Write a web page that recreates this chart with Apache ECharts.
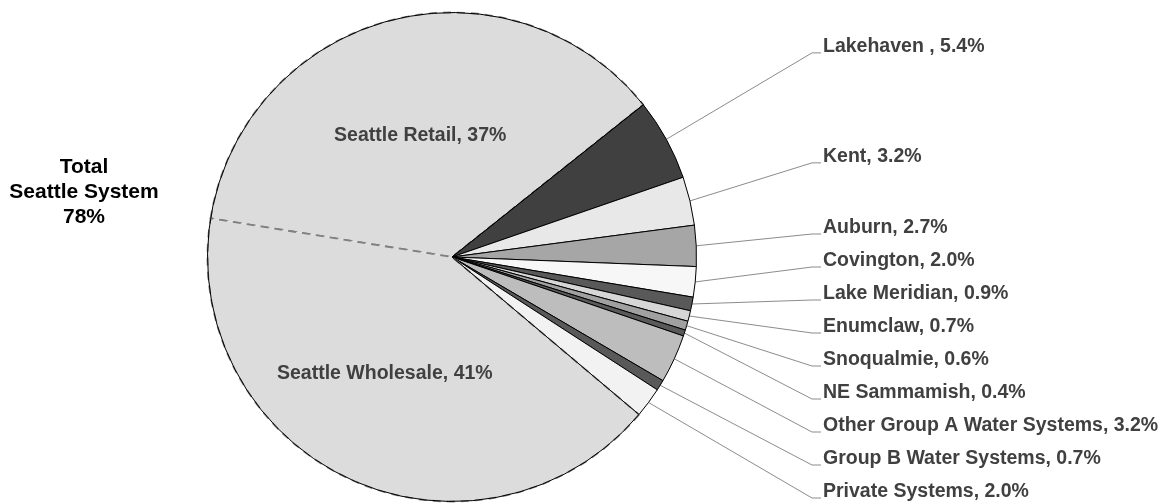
<!DOCTYPE html>
<html><head><meta charset="utf-8">
<script src="https://cdn.jsdelivr.net/npm/echarts@6/dist/echarts.min.js"></script>
<style>
html,body{margin:0;padding:0;background:#fff}
#c{width:1168px;height:504px}
</style></head><body><div id="c"></div>
<script>
// ---- data ----
const categories = ['Seattle Retail','Lakehaven ','Kent','Auburn','Covington','Lake Meridian','Enumclaw','Snoqualmie','NE Sammamish','Other Group A Water Systems','Group B Water Systems','Private Systems','Seattle Wholesale'];
const shares = [36.7,5.4,3.2,2.7,2.0,0.9,0.7,0.6,0.4,3.2,0.7,2.0,41.3];
const seattleGroup = ['Seattle Retail','Seattle Wholesale'];
const totalName = ['Total','Seattle System'];

// ---- styles / layout ----
const sliceColors = ['#dcdcdc','#404040','#e8e8e8','#a6a6a6','#f7f7f7','#595959','#d6d6d6','#a0a0a0','#5a5a5a','#bdbdbd','#595959','#f2f2f2','#dcdcdc'];
const FONT = '"Liberation Sans", Arial, sans-serif';
const CENTER = [452, 257];
const RADIUS = 244.5;
const START = 170.9;
const TEXT_X = 823;
const LABEL_RADIUS = RADIUS + 192;
const LABEL_GAP = 33;
const LABEL_BOTTOM = 492;
const INNER_NUDGE = {'Seattle Retail':[0,0], 'Seattle Wholesale':[-15,3]};

const total = shares.reduce((a,b)=>a+b,0);
const seattleSum = shares.filter((v,i)=>seattleGroup.includes(categories[i])).reduce((a,b)=>a+b,0);
const wholesale = shares[categories.indexOf('Seattle Wholesale')];
const fmt = v => v >= 10 ? String(Math.round(v)) : v.toFixed(1);
const rad = d => d*Math.PI/180;

// mid angles of slices (ECharts: start angle, clockwise)
let cum = 0;
const mids = shares.map(v => { const m = START - (cum + v/2)/total*360; cum += v; return m; });
// outside label vertical layout: natural position, then push apart, bounded at bottom
const outsideIdx = categories.map((n,i)=>i).filter(i=>!seattleGroup.includes(categories[i]));
const labelY = {};
outsideIdx.forEach(i => { labelY[i] = CENTER[1] - LABEL_RADIUS*Math.sin(rad(mids[i])); });
const order = outsideIdx.slice().sort((a,b)=>labelY[a]-labelY[b]);
for (let k=1;k<order.length;k++) labelY[order[k]] = Math.max(labelY[order[k]], labelY[order[k-1]] + LABEL_GAP);
labelY[order[order.length-1]] = Math.min(labelY[order[order.length-1]], LABEL_BOTTOM);
for (let k=order.length-2;k>=0;k--) labelY[order[k]] = Math.min(labelY[order[k]], labelY[order[k+1]] - LABEL_GAP);

const mainData = categories.map((n,i)=>{
  const sea = seattleGroup.includes(n);
  const d = {name:n, value:shares[i], itemStyle:{color:sliceColors[i]}};
  if (sea) {
    d.itemStyle.borderColor = '#808080';
    d.itemStyle.borderWidth = 1.8;
    d.itemStyle.borderType = [8,6];
    d.label = {position:'inner'};
    d.labelLine = {show:false};
  }
  return d;
});

const chart = echarts.init(document.getElementById('c'));
chart.setOption({
  backgroundColor:'#fff',
  animation:false,
  title:{
    text: totalName.join('\n') + '\n' + Math.round(seattleSum) + '%',
    left: 84, top: 154.5, padding: 0, textAlign:'center',
    textStyle:{fontFamily:FONT, fontSize:21, fontWeight:'bold', color:'#000', lineHeight:25}
  },
  series:[
    {
      type:'pie', center:CENTER, radius:RADIUS, startAngle:START, clockwise:true,
      avoidLabelOverlap:false, silent:true,
      itemStyle:{borderColor:'#000', borderWidth:1},
      label:{show:true, position:'outside', fontFamily:FONT, fontSize:19.5, fontWeight:'bold', color:'#404040',
        formatter:p=>p.name + ', ' + fmt(p.value) + '%'},
      labelLine:{show:true, length:20, length2:8, lineStyle:{color:'#8c8c8c', width:1}},
      labelLayout:function(params){
        const i = params.dataIndex;
        const name = categories[i];
        if (seattleGroup.includes(name)) {
          const nd = INNER_NUDGE[name];
          return {dx: nd[0], dy: nd[1]};
        }
        const y = labelY[i];
        const m = rad(mids[i]);
        const edge = [CENTER[0] + RADIUS*Math.cos(m), CENTER[1] - RADIUS*Math.sin(m)];
        return {
          x: TEXT_X, y: y, align:'left', verticalAlign:'middle',
          labelLinePoints:[edge, [TEXT_X-11, y+6], [TEXT_X-2, y+6]]
        };
      },
      emphasis:{disabled:true},
      data: mainData
    },
    {
      type:'pie', center:CENTER, radius:RADIUS, clockwise:true, silent:true,
      startAngle: START + wholesale/total*360,
      label:{show:false}, labelLine:{show:false}, emphasis:{disabled:true},
      data:[
        {name:'seattle', value:seattleSum, itemStyle:{color:'rgba(0,0,0,0)', borderColor:'#000', borderWidth:1}},
        {name:'rest', value:total-seattleSum, itemStyle:{color:'rgba(0,0,0,0)', borderWidth:0}}
      ]
    }
  ]
});
</script></body></html>
